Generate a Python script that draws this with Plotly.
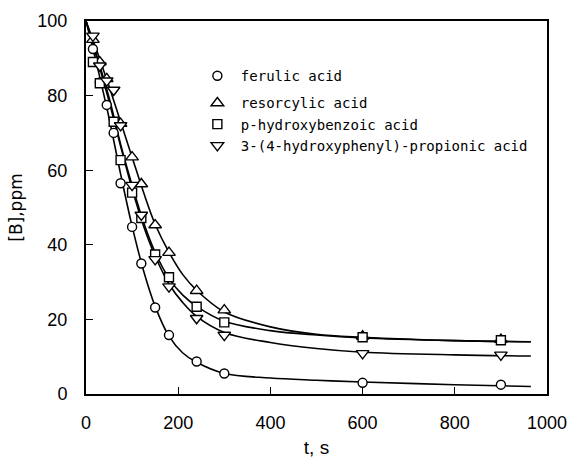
import plotly.graph_objects as go

# ---- data ----
series_names = ["ferulic acid", "resorcylic acid", "p-hydroxybenzoic acid",
                "3-(4-hydroxyphenyl)-propionic acid"]

ferulic_t = [15, 30, 45, 60, 75, 100, 120, 150, 180, 240, 300, 600, 900]
ferulic = [92.5, 83.5, 77.5, 70, 56.5, 44.8, 35, 23.2, 15.8, 8.7, 5.5, 3.0, 2.5]

resorcylic_t = [15, 30, 45, 75, 100, 120, 150, 180, 240, 300, 600, 900]
resorcylic = [95, 89, 84.5, 72.5, 63.5, 56.3, 45.3, 37.9, 27.7, 22.5, 15.5, 14.6]

phb_t = [15, 30, 60, 75, 100, 120, 150, 180, 240, 300, 600, 900]
phb = [89, 83.3, 73, 62.7, 54, 47.2, 37.4, 31.3, 23.4, 19.2, 15.2, 14.4]

hpp_t = [15, 30, 45, 60, 75, 100, 120, 150, 180, 240, 300, 600, 900]
hpp = [96, 88, 84, 81.5, 72, 56, 48, 36.1, 28.8, 20.3, 15.8, 10.9, 10.5]

# fitted curves
fit_t = [0, 25, 50, 75, 100, 125, 150, 180, 210, 240, 300, 400, 500, 600, 800, 965]
ferulic_fit = [100, 87.5, 74, 59, 45, 33, 23.5, 15.5, 11, 8.5, 5.5, 4.3, 3.7, 3.2, 2.5, 2.0]
resorcylic_fit = [100, 91.5, 82.5, 73, 63.5, 54, 45.5, 38, 32, 27.8, 22, 18, 16, 15.2, 14.3, 14]
phb_fit = [100, 90, 79.5, 67, 56, 46, 38, 31, 26.5, 23.5, 19.5, 17, 15.8, 15.0, 14.3, 14]
hpp_fit = [100, 89.5, 78.5, 66.5, 55, 45, 37, 29.5, 24.5, 20.8, 16.5, 13.8, 12.2, 11.2, 10.5, 10.2]

x_ticks = [0, 200, 400, 600, 800, 1000]
y_ticks = [0, 20, 40, 60, 80, 100]

symbols = ["circle", "triangle-up", "square", "triangle-down"]
sizes = [9, 11, 9, 11]
groups = ["a", "b", "b", "b"]

pts = [(ferulic_t, ferulic), (resorcylic_t, resorcylic), (phb_t, phb), (hpp_t, hpp)]
fits = [ferulic_fit, resorcylic_fit, phb_fit, hpp_fit]

fig = go.Figure()
for f in fits:
    fig.add_trace(go.Scatter(x=fit_t, y=f, mode="lines",
                             line=dict(color="black", width=1.6, shape="spline"),
                             showlegend=False, hoverinfo="skip"))
for i, (t, v) in enumerate(pts):
    fig.add_trace(go.Scatter(x=t, y=v, mode="markers", name=series_names[i],
                             legendgroup=groups[i],
                             marker=dict(symbol=symbols[i], size=sizes[i], color="white",
                                         line=dict(color="black", width=1.4))))

font_family = "Liberation Sans, Arial, sans-serif"
fig.update_layout(
    width=572, height=458,
    margin=dict(l=86, r=25, t=21, b=64, autoexpand=False),
    paper_bgcolor="white", plot_bgcolor="white",
    font=dict(family=font_family, color="black"),
    showlegend=True,
    legend=dict(x=0.234, y=0.895, xanchor="left", yanchor="top",
                traceorder="grouped", tracegroupgap=6,
                font=dict(family="DejaVu Sans Mono", size=14, color="black"),
                bgcolor="rgba(0,0,0,0)", itemwidth=37),
    xaxis=dict(range=[0, 1000], tickvals=x_ticks, ticks="inside", ticklen=7,
               tickwidth=1.3, tickcolor="black", showline=True, linecolor="black",
               linewidth=2, mirror=True, showgrid=False, zeroline=False,
               automargin=False,
               tickfont=dict(size=18), ticklabelstandoff=11,
               title=dict(text="t, s", font=dict(size=19), standoff=13)),
    yaxis=dict(range=[0, 100], tickvals=y_ticks, ticks="inside", ticklen=7,
               tickwidth=1.3, tickcolor="black", showline=True, linecolor="black",
               linewidth=2, mirror=True, showgrid=False, zeroline=False,
               automargin=False,
               tickfont=dict(size=18), ticklabelstandoff=13,
               title=dict(text="[B],ppm", font=dict(family="DejaVu Sans", size=17),
                          standoff=10)),
)

fig.write_html("out.html")
